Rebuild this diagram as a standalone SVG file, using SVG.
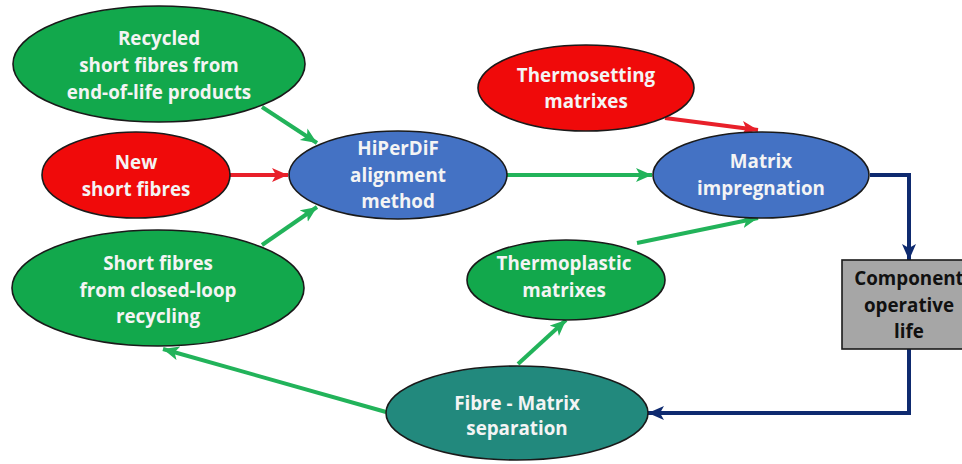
<svg xmlns="http://www.w3.org/2000/svg" width="962" height="464" viewBox="0 0 962 464">
  <style>
    .node { stroke: #1a1a1a; stroke-width: 1.6; }
    .green { fill: #12A84C; }
    .red { fill: #F00A0A; }
    .blue { fill: #4472C4; }
    .teal { fill: #22897D; }
    .box { fill: #A6A6A6; }
    .lbl { font-family: "Open Sans", "Liberation Sans", sans-serif; font-weight: 700; font-size: 18.8px; fill: #F4F4F4; text-anchor: middle; }
    .dark { fill: #111111; }
    .c-green { stroke: #22B35A; stroke-width: 4; fill: none; marker-end: url(#ah-green); }
    .c-red { stroke: #E8202A; stroke-width: 4; fill: none; marker-end: url(#ah-red); }
    .c-navy { stroke: #0E2A6F; stroke-width: 4; fill: none; marker-end: url(#ah-navy); }
  </style>
  <defs>
    <marker id="ah-green" markerUnits="userSpaceOnUse" markerWidth="18" markerHeight="16" refX="16" refY="7" orient="auto">
      <path d="M0,0 L16,7 L0,14 L4,7 z" fill="#22B35A"/>
    </marker>
    <marker id="ah-red" markerUnits="userSpaceOnUse" markerWidth="18" markerHeight="16" refX="16" refY="7" orient="auto">
      <path d="M0,0 L16,7 L0,14 L4,7 z" fill="#E8202A"/>
    </marker>
    <marker id="ah-navy" markerUnits="userSpaceOnUse" markerWidth="18" markerHeight="16" refX="16" refY="7" orient="auto">
      <path d="M0,0 L16,7 L0,14 L4,7 z" fill="#0E2A6F"/>
    </marker>
  </defs>

  <rect width="962" height="464" fill="#ffffff"/>

  <!-- connectors -->
  <g id="connectors">
    <line class="c-green" x1="262" y1="107" x2="317" y2="143"/>
    <line class="c-red" x1="230" y1="175" x2="288" y2="175"/>
    <line class="c-green" x1="262" y1="245" x2="317" y2="207"/>
    <line class="c-green" x1="507" y1="175" x2="652" y2="175"/>
    <line class="c-red" x1="665" y1="118" x2="758" y2="130"/>
    <line class="c-green" x1="637" y1="243" x2="758" y2="218"/>
    <line class="c-green" x1="518" y1="364" x2="566" y2="320"/>
    <line class="c-green" x1="386" y1="412" x2="163" y2="349"/>
    <polyline class="c-navy" points="870,175 909,175 909,260"/>
    <polyline class="c-navy" points="909,349 909,413 648,413"/>
  </g>

  <g id="recycled-eol">
    <ellipse class="node green" cx="159" cy="64" rx="146" ry="58"/>
    <text class="lbl" x="159" y="45">Recycled</text>
    <text class="lbl" x="159" y="72">short fibres from</text>
    <text class="lbl" x="159" y="99">end-of-life products</text>
  </g>

  <g id="new-fibres">
    <ellipse class="node red" cx="136" cy="175" rx="94" ry="43"/>
    <text class="lbl" x="136" y="169">New</text>
    <text class="lbl" x="136" y="196">short fibres</text>
  </g>

  <g id="closed-loop">
    <ellipse class="node green" cx="158" cy="288" rx="146" ry="58"/>
    <text class="lbl" x="158" y="270">Short fibres</text>
    <text class="lbl" x="158" y="297">from closed-loop</text>
    <text class="lbl" x="158" y="323">recycling</text>
  </g>

  <g id="hiperdif">
    <ellipse class="node blue" cx="398" cy="175" rx="109" ry="44"/>
    <text class="lbl" x="398" y="155">HiPerDiF</text>
    <text class="lbl" x="398" y="182">alignment</text>
    <text class="lbl" x="398" y="208">method</text>
  </g>

  <g id="thermosetting">
    <ellipse class="node red" cx="586" cy="88" rx="108" ry="43"/>
    <text class="lbl" x="586" y="82">Thermosetting</text>
    <text class="lbl" x="586" y="108">matrixes</text>
  </g>

  <g id="impregnation">
    <ellipse class="node blue" cx="761" cy="175" rx="108" ry="43"/>
    <text class="lbl" x="761" y="168">Matrix</text>
    <text class="lbl" x="761" y="195">impregnation</text>
  </g>

  <g id="thermoplastic">
    <ellipse class="node green" cx="566" cy="280" rx="99" ry="40"/>
    <text class="lbl" x="564" y="270">Thermoplastic</text>
    <text class="lbl" x="564" y="297">matrixes</text>
  </g>

  <g id="operative-life">
    <rect class="node box" x="842" y="260" width="134" height="89"/>
    <text class="lbl dark" x="909" y="285">Component</text>
    <text class="lbl dark" x="909" y="312">operative</text>
    <text class="lbl dark" x="909" y="338">life</text>
  </g>

  <g id="separation">
    <ellipse class="node teal" cx="517" cy="413" rx="131" ry="47"/>
    <text class="lbl" x="517" y="410">Fibre - Matrix</text>
    <text class="lbl" x="517" y="435">separation</text>
  </g>
</svg>
